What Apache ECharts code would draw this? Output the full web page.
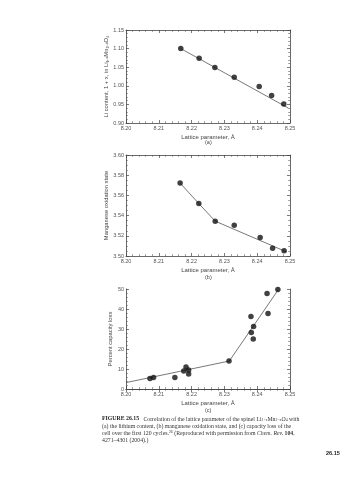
<!DOCTYPE html>
<html><head><meta charset="utf-8">
<script src="https://cdn.jsdelivr.net/npm/echarts@6/dist/echarts.min.js"></script>
<style>html,body{margin:0;padding:0;background:#fff}#c{width:357px;height:480px}</style>
</head><body><div id="c"></div>
<script>
// (a) Li content vs lattice parameter
const latA = [8.2167, 8.2223, 8.2271, 8.2330, 8.2406, 8.2444, 8.2481];
const liA  = [1.100, 1.074, 1.049, 1.023, 0.998, 0.974, 0.951];
const fitAx = [8.2167, 8.2495];
const fitAy = [1.100, 0.940];
// (b) Mn oxidation state
const latB = [8.2165, 8.2222, 8.2272, 8.2330, 8.2409, 8.2447, 8.2482];
const mnB  = [3.5722, 3.5519, 3.5345, 3.5305, 3.5182, 3.5076, 3.5053];
const fitBx = [8.2165, 8.2222, 8.2272, 8.2490];
const fitBy = [3.5722, 3.5519, 3.5345, 3.5040];
// (c) capacity loss
const latC = [8.2073, 8.2084, 8.2149, 8.2176, 8.2183, 8.2191, 8.2191, 8.2314, 8.2381, 8.2382, 8.2389, 8.2388, 8.2430, 8.2433, 8.2463];
const lossC = [5.3, 5.8, 5.8, 9.0, 11.0, 9.5, 7.5, 14.0, 36.2, 28.2, 31.3, 25.0, 47.7, 37.8, 49.8];
const fitCx = [8.2000, 8.2315, 8.2465];
const fitCy = [3.2, 14.0, 49.8];

const xTicks = ['8.20','8.21','8.22','8.23','8.24','8.25'];
const yTicksA = ['0.90','0.95','1.00','1.05','1.10','1.15'];
const yTicksB = ['3.50','3.52','3.54','3.56','3.58','3.60'];
const yTicksC = ['0','10','20','30','40','50'];

const zip = (a, b) => a.map((v, i) => [v, b[i]]);
const FONT = 'Liberation Sans';
const tickStyle = {color: '#555', fontSize: 5.5, fontFamily: FONT};
const axLine = {show: true, lineStyle: {color: '#444', width: 0.8}};

function xAx(grid, pos, labels) {
  return {
    type: 'value', gridIndex: grid, position: pos, min: 8.20, max: 8.25, interval: 0.01,
    axisLine: axLine,
    axisTick: {show: true, inside: true, length: 3, lineStyle: {color: '#444', width: 0.7}},
    minorTick: {show: true, splitNumber: 5, length: 1.8, lineStyle: {color: '#555', width: 0.6}},
    splitLine: {show: false},
    axisLabel: labels ? {show: true, margin: 2, ...tickStyle, formatter: v => xTicks[Math.round((v - 8.20) / 0.01)]} : {show: false},
    name: labels ? 'Lattice parameter, Å' : '',
    nameLocation: 'middle', nameGap: 11,
    nameTextStyle: {color: '#444', fontSize: 6, fontFamily: FONT}
  };
}
function yAx(grid, pos, min, max, interval, ticks, name, nameGap, minorSplit) {
  return {
    type: 'value', gridIndex: grid, position: pos, min: min, max: max, interval: interval,
    axisLine: axLine,
    axisTick: {show: true, inside: true, length: 3, lineStyle: {color: '#444', width: 0.7}},
    minorTick: {show: true, splitNumber: minorSplit, length: 1.8, lineStyle: {color: '#555', width: 0.6}},
    splitLine: {show: false},
    axisLabel: pos === 'left' ? {show: true, margin: 2, ...tickStyle, formatter: v => ticks[Math.round((v - min) / interval)]} : {show: false},
    name: pos === 'left' ? name : '',
    nameLocation: 'middle', nameGap: nameGap, nameRotate: 90,
    nameTextStyle: {color: '#444', fontSize: 5.8, fontFamily: FONT}
  };
}

const grids = [
  {left: 126, top: 30, width: 164, height: 93},
  {left: 126, top: 155, width: 164, height: 101},
  {left: 126, top: 289, width: 164, height: 100}
];

const xAxes = [], yAxes = [];
[0, 1, 2].forEach(g => { xAxes.push(xAx(g, 'bottom', true)); xAxes.push(xAx(g, 'top', false)); });
yAxes.push(yAx(0, 'left', 0.90, 1.15, 0.05, yTicksA, 'Li content, 1 + x, in Li₁₊ₓMn₂₋ₓO₄', 17, 5));
yAxes.push(yAx(0, 'right', 0.90, 1.15, 0.05, yTicksA, '', 0, 5));
yAxes.push(yAx(1, 'left', 3.50, 3.60, 0.02, yTicksB, 'Manganese oxidation state', 17, 4));
yAxes.push(yAx(1, 'right', 3.50, 3.60, 0.02, yTicksB, '', 0, 4));
yAxes.push(yAx(2, 'left', 0, 50, 10, yTicksC, 'Percent capacity loss', 13, 5));
yAxes.push(yAx(2, 'right', 0, 50, 10, yTicksC, '', 0, 5));

function lineS(xi, yi, data) {
  return {type: 'line', xAxisIndex: xi, yAxisIndex: yi, data: data, symbol: 'none',
    lineStyle: {color: '#555', width: 0.8}, silent: true, animation: false, z: 2};
}
function dotS(xi, yi, data) {
  return {type: 'scatter', xAxisIndex: xi, yAxisIndex: yi, data: data, symbol: 'circle', symbolSize: 5.5,
    itemStyle: {color: '#111'}, animation: false, z: 3};
}

const series = [
  lineS(0, 0, zip(fitAx, fitAy)), dotS(0, 0, zip(latA, liA)),
  lineS(2, 2, zip(fitBx, fitBy)), dotS(2, 2, zip(latB, mnB)),
  lineS(4, 4, zip(fitCx, fitCy)), dotS(4, 4, zip(latC, lossC))
];

const capFont = 'Liberation Serif';
const CS = 5.8, LH = 7;
const capRich = {
  b: {fontWeight: 'bold', fontSize: CS, lineHeight: LH, fontFamily: capFont, fill: '#222', verticalAlign: 'middle'},
  n: {fontSize: CS, lineHeight: LH, fontFamily: capFont, fill: '#333', verticalAlign: 'middle'},
  s: {fontSize: 3.8, lineHeight: 4, fontFamily: capFont, fill: '#333', verticalAlign: 'bottom'},
  p: {fontSize: 3.8, lineHeight: 4, fontFamily: capFont, fill: '#333', verticalAlign: 'top'},
  i: {fontSize: CS, lineHeight: LH, fontFamily: capFont, fontStyle: 'italic', fill: '#333', verticalAlign: 'middle'},
  bb: {fontSize: CS, lineHeight: LH, fontFamily: capFont, fontWeight: 'bold', fill: '#333', verticalAlign: 'middle'}
};
function capLine(y, txt) {
  return {type: 'text', left: 102, top: y, style: {text: txt, rich: capRich, fill: '#333', font: CS + 'px ' + capFont}};
}
function subLabel(x, y, t) {
  return {type: 'text', left: x, top: y, style: {text: t, fill: '#444', font: '5.5px ' + FONT}};
}

const chart = echarts.init(document.getElementById('c'), null, {renderer: 'canvas'});
chart.setOption({
  backgroundColor: '#fff',
  animation: false,
  grid: grids,
  xAxis: xAxes,
  yAxis: yAxes,
  series: series,
  graphic: [
    subLabel(205, 139, '(a)'),
    subLabel(205, 274, '(b)'),
    subLabel(205, 407, '(c)'),
    capLine(416, '{b|FIGURE 26.15}{n|   Correlation of the lattice parameter of the spinel Li}{s|1+x}{n|Mn}{s|2−x}{n|O}{s|4}{n| with}'),
    capLine(423, '{n|(a) the lithium content, (b) manganese oxidation state, and (c) capacity loss of the}'),
    capLine(430, '{n|cell over the first 120 cycles.}{p|26}{n| (Reproduced with permission from }{i|Chem. Rev.}{n| }{bb|104}{n|,}'),
    capLine(437, '{n|4271–4301 (2004).)}'),
    {type: 'text', left: 326, top: 450, style: {text: '26.15', fill: '#222', font: 'bold 5.5px ' + FONT}}
  ]
});
</script>
</body></html>
